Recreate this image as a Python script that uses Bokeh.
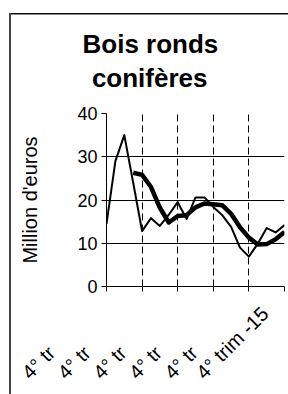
from math import pi, nan
from bokeh.plotting import figure
from bokeh.models import Range1d, FixedTicker, ColumnDataSource
from bokeh.embed import file_html
from bokeh.resources import INLINE

# ---- data ----
quarters = list(range(21))  # quarter index, 4th quarter 2010 .. 4th quarter 2015
monthly_value = [14.5, 29.0, 35.0, 24.0, 12.8, 15.8, 14.0, 16.6, 19.5, 15.6, 20.6,
                 20.6, 18.4, 16.5, 13.8, 9.0, 6.9, 9.9, 13.5, 12.5, 14.2]
moving_avg = [nan, nan, nan, 26.3, 25.8, 23.0, 18.2, 14.8, 16.3, 16.5, 18.3,
              19.2, 19.0, 18.8, 16.8, 13.7, 11.3, 9.7, 9.8, 10.9, 12.6]
x_ticks = [0, 4, 8, 12, 16, 20]
x_tick_labels = ["4° tr", "4° tr", "4° tr", "4° tr", "4° tr", "4° trim -15"]
y_ticks = [0, 10, 20, 30, 40]
title_lines = ["Bois ronds", "conifères"]
y_title = "Million d'euros"

FONT = "Liberation Sans"
NB = "\u00a0"

p = figure(width=288, height=394, x_range=Range1d(0, 20), y_range=Range1d(0, 40),
           output_backend="svg", toolbar_location=None,
           min_border_left=106, min_border_right=4, min_border_top=113, min_border_bottom=108,
           styles={
               "background-image": "linear-gradient(#444, #444), linear-gradient(#111, #111)",
               "background-size": "2px 400px, 300px 1.5px",
               "background-position": "9px 13px, 9px 13px",
               "background-repeat": "no-repeat",
           })
p.outline_line_color = None
p.background_fill_color = "white"
p.border_fill_color = None

# title: two lines, second one nudged so both look centred
p.title.text = title_lines[0] + "\n" + NB + "\u200a" + title_lines[1]
p.title.text_font = FONT
p.title.text_font_size = "26px"
p.title.text_font_style = "bold"
p.title.text_color = "black"
p.title.text_line_height = 1.15
p.title.align = "left"
p.title.vertical_align = "top"
p.title.offset = -24
p.title.standoff = 36

# x axis (categories)
p.xaxis.ticker = FixedTicker(ticks=x_ticks)
p.xaxis.major_label_overrides = {
    t: lab + NB * (4 if "trim" in lab else 14)
    for t, lab in zip(x_ticks, x_tick_labels)
}
p.xaxis.major_label_orientation = pi / 4
p.xaxis.major_label_text_font = FONT
p.xaxis.major_label_text_font_size = "20px"
p.xaxis.major_label_text_color = "black"
p.xaxis.major_label_standoff = 3
p.xaxis.major_tick_out = 5
p.xaxis.major_tick_in = 0
p.xaxis.minor_tick_out = 0
p.xaxis.minor_tick_in = 0
p.xaxis.axis_line_color = "black"
p.xaxis.major_tick_line_color = "black"

# y axis
p.yaxis.ticker = FixedTicker(ticks=y_ticks)
p.yaxis.major_label_text_font = FONT
p.yaxis.major_label_text_font_size = "18px"
p.yaxis.major_label_text_color = "black"
p.yaxis.major_label_standoff = 4
p.yaxis.major_tick_out = 5
p.yaxis.major_tick_in = 0
p.yaxis.minor_tick_out = 0
p.yaxis.minor_tick_in = 0
p.yaxis.axis_line_color = "black"
p.yaxis.major_tick_line_color = "black"
p.yaxis.axis_label = y_title
p.yaxis.axis_label_text_font = FONT
p.yaxis.axis_label_text_font_size = "20px"
p.yaxis.axis_label_text_font_style = "normal"
p.yaxis.axis_label_text_color = "black"
p.yaxis.axis_label_standoff = 33

# grids
p.xgrid.ticker = FixedTicker(ticks=x_ticks[1:])
p.xgrid.grid_line_color = "black"
p.xgrid.grid_line_dash = "7 4"
p.xgrid.grid_line_width = 1
p.ygrid.ticker = FixedTicker(ticks=y_ticks[1:-1])
p.ygrid.grid_line_color = "black"
p.ygrid.grid_line_width = 1

src = ColumnDataSource(dict(x=quarters, v=monthly_value, m=moving_avg))
p.line("x", "v", source=src, line_color="black", line_width=2, line_join="round")
p.line("x", "m", source=src, line_color="black", line_width=4.5, line_join="round")

open("out.html", "w").write(file_html(p, INLINE))
